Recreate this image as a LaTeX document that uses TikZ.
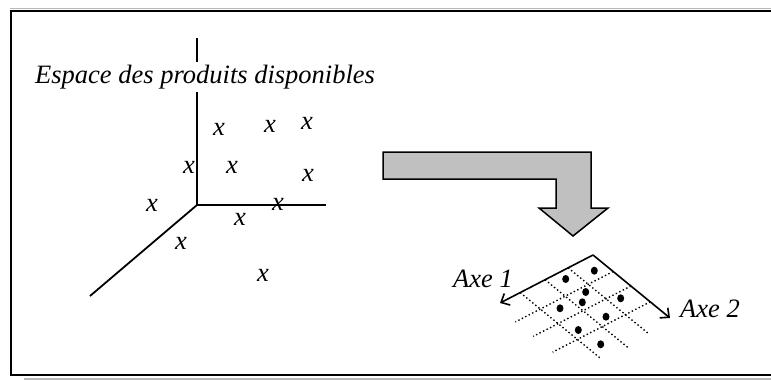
\documentclass[tikz,border=0pt]{standalone}
\usepackage{fontspec}
\setmainfont{Liberation Serif}
\usetikzlibrary{arrows.meta,shapes.geometric}
\definecolor{arrowgray}{HTML}{C0C0C0}
\definecolor{shadowgray}{HTML}{B8B8B8}
\begin{document}
\begin{tikzpicture}[x=1pt,y=-1pt,
  axis/.style={line width=1.8pt},
  lbl/.style={font=\fontsize{26.5}{30}\selectfont\itshape, inner sep=0pt},
  mk/.style={font=\fontsize{26.5}{30}\selectfont\itshape, inner sep=0pt},
  gridline/.style={line width=1.4pt, dash pattern=on 1.4pt off 2.5pt},
  gaxis/.style={line width=1.6pt, -{Straight Barb[length=7pt,width=13pt,line width=1.6pt]}},
  gdot/.style={ellipse, fill=black, inner sep=0pt, minimum width=7pt, minimum height=8pt},
  bigarrow/.style={fill=arrowgray, draw=black, line width=1.5pt, line join=miter}
]
\clip (0,0) rectangle (771,380);
\fill[white] (0,0) rectangle (771,380);
% frame
\draw[shadowgray, line width=1.5pt] (10,8.3) -- (790,8.3);
\draw[shadowgray, line width=1.8pt] (24,379) -- (790,379);
\draw[line width=2pt] (790,10.5) -- (11,10.5) -- (11,375) -- (790,375);

% 3D axes
\coordinate (O) at (197,205);
\coordinate (ztop) at (197,38);
\coordinate (xend) at (326,205);
\coordinate (yend) at (90,296);
\draw[axis] (O) -- (ztop);
\draw[axis] (O) -- (xend);
\draw[axis] (O) -- (yend);

\node[lbl, anchor=base west, fill=white, inner ysep=3pt] (title) at (35,83) {Espace des produits disponibles};

% x markers
\node[mk] (m1) at (219,129) {x};
\node[mk] (m2) at (270,126) {x};
\node[mk] (m3) at (307,123) {x};
\node[mk] (m4) at (189,167) {x};
\node[mk] (m5) at (232,167) {x};
\node[mk] (m6) at (308,175) {x};
\node[mk] (m7) at (152,205) {x};
\node[mk] (m8) at (240,219) {x};
\node[mk] (m9) at (278,204) {x};
\node[mk] (m10) at (181,243) {x};
\node[mk] (m11) at (263,275) {x};

% big bent arrow
\draw[bigarrow] (383,152) -- (591,152) -- (591,208) -- (608,208) -- (573,236)
  -- (539,208) -- (556,208) -- (556,179) -- (383,179) -- cycle;

% grid
\draw[gridline] (613.1,271.5) -- (515.4,321.9);
\draw[gridline] (630.9,286.0) -- (533.2,336.4);
\draw[gridline] (650.3,301.8) -- (552.6,352.2);
\draw[gridline] (568.1,267.8) -- (649.4,334.3);
\draw[gridline] (545.0,279.7) -- (627.8,347.4);
\draw[gridline] (520.2,292.6) -- (599.9,357.8);

% factor axes
\coordinate (apex) at (593,255);
\coordinate (a1end) at (500,303);
\coordinate (a2end) at (670,318);
\draw[gaxis] (apex) -- (a1end);
\draw[gaxis] (apex) -- (a2end);
\node[lbl, anchor=base east] (axe1) at (513,287) {Axe 1};
\node[lbl, anchor=base west] (axe2) at (680,317) {Axe 2};

% points
\node[gdot] (d1) at (594.3,270.7) {};
\node[gdot] (d2) at (565.7,279) {};
\node[gdot] (d3) at (585.7,292) {};
\node[gdot] (d4) at (582.3,302.3) {};
\node[gdot] (d5) at (620.7,298.3) {};
\node[gdot] (d6) at (560,308.3) {};
\node[gdot] (d7) at (606,316.7) {};
\node[gdot] (d8) at (578.3,330) {};
\node[gdot] (d9) at (600.7,344.3) {};
\end{tikzpicture}
\end{document}
